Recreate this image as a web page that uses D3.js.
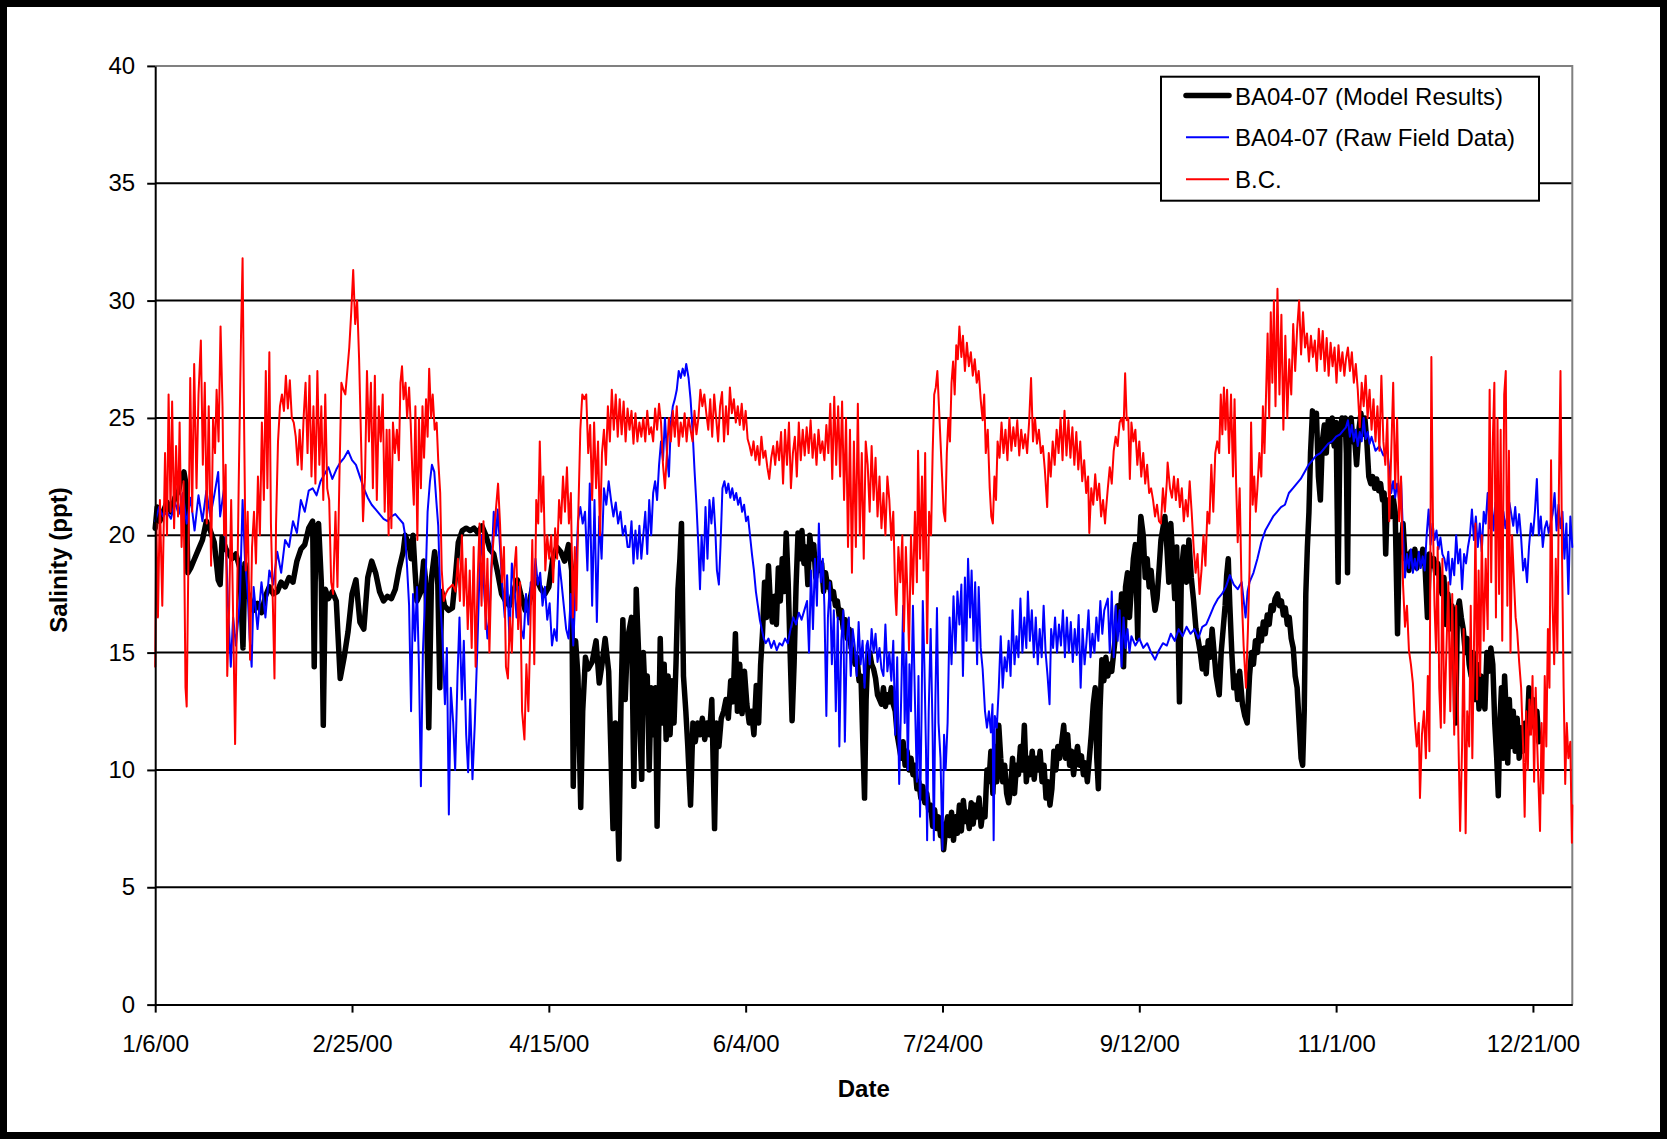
<!DOCTYPE html>
<html>
<head>
<meta charset="utf-8">
<script src="https://cdn.jsdelivr.net/npm/d3@7"></script>
<style>
  html, body { margin: 0; padding: 0; background: #fff; }
  svg { display: block; font-family: "Liberation Sans", Arial, Helvetica, sans-serif; }
</style>
</head>
<body>
<svg id="chart" width="1667" height="1139"></svg>
<script>
// Axis ticks
const dateTicks = ["1/6/00", "2/25/00", "4/15/00", "6/4/00", "7/24/00", "9/12/00", "11/1/00", "12/21/00"];
const dateRange = ["1/6/00", "12/31/00"];
const salinityTicks = [0, 5, 10, 15, 20, 25, 30, 35, 40];

const seriesNames = ["BA04-07 (Model Results)", "BA04-07 (Raw Field Data)", "B.C."];

// Each record: [days after 1/6/00, salinity in ppt]
const modelResults = [
  [0,20.3],[0.5,21.2],[1.2,20.6],[2,21.0],[3,21.4],[4,21.0],[5,21.6],[6,21.9],[6.5,22.4],[7.3,22.7],[7.8,22.2],[8.3,18.4],[9,18.6],[10,19.0],[11,19.4],[12,19.8],[13,20.6],[14,20.2],[15,19.7],[16,18.1],[16.5,17.9],[17,19.9],[18,19.4],[19.5,19.0],[20.5,19.2],[21.5,18.6],[22.3,15.2],[22.8,18.8],[23.4,17.6],[24,17.3],[25,16.8],[26,17.1],[27,16.7],[28,17.4],[29,17.8],[30,17.5],[31,17.6],[32,18.0],[33,17.8],[34,18.2],[35,18.0],[36,18.9],[37,19.4],[38,19.6],[39,20.3],[40,20.6],[40.4,14.4],[40.8,20.3],[41.5,20.5],[42.2,18.0],[42.7,11.9],[43.2,17.7],[44,17.3],[45,17.6],[46,17.2],[47,13.9],[48,14.8],[49,15.9],[50,17.5],[51,18.1],[52,16.3],[53,16.0],[54,18.2],[55,18.9],[56,18.4],[57,17.6],[58,17.2],[59,17.4],
  [60,17.3],[61,17.7],[62,18.6],[63,19.3],[63.5,20.0],[64.5,19.6],[65,19.0],[65.5,20.0],[66,18.5],[66.5,17.2],[67.5,17.6],[68.2,18.9],[68.8,17.9],[69.5,11.8],[70.2,18.2],[71,19.3],[71.8,17.9],[72.3,13.5],[72.8,17.6],[73.5,17.0],[74.5,16.8],[75.5,16.9],[76.3,18.3],[77,19.7],[78,20.2],[79,20.3],[80,20.2],[81,20.3],[82,20.1],[83,20.4],[84,20.0],[85,19.4],[86,19.2],[87,18.4],[88,17.5],[89,17.2],[90,17.0],[91,17.6],[92,18.1],[93,17.4],[94,16.8],[95,17.1],[96,17.9],[97,18.1],[98,17.7],[99,17.5],[100,17.8],[101,19.0],[102,19.5],[103,19.3],[104,18.9],[105,19.6],[105.8,18.5],[106.2,9.3],[106.8,15.5],[107.4,14.0],[108.1,8.4],[108.6,12.5],[109.3,14.8],[110,14.3],[111,14.6],[112,15.5],[112.8,13.7],[113.5,14.5],[114.3,15.6],[115.2,14.2],[116.3,7.5],[116.9,12.0],[117.8,6.2],[118.3,12.5],[118.8,16.4],[119.4,13.0],[120,15.6],
  [121,16.5],[121.6,9.3],[122.2,17.7],[122.8,15.0],[123.2,11.5],[123.6,9.6],[124,15.0],[124.5,13.0],[125,14.0],[125.5,10.0],[126,13.5],[126.6,11.5],[127.1,13.5],[127.5,7.6],[128,12.5],[128.3,15.6],[128.8,12.0],[129.3,14.5],[129.8,11.3],[130.3,14.0],[130.8,11.5],[131.3,13.8],[131.8,12.0],[132.3,14.5],[132.8,17.7],[133.3,19.0],[133.7,20.5],[134.2,14.0],[134.8,12.5],[135.3,11.0],[136,8.5],[136.6,12.0],[137.2,11.2],[137.8,12.0],[138.4,11.5],[139,12.2],[139.6,11.3],[140.2,12.0],[140.8,11.5],[141.4,13.0],[142.1,7.5],[142.6,12.0],[143.2,11.0],[143.8,12.2],[144.4,12.5],[145,13.0],[145.6,12.2],[146.2,13.8],[146.8,12.9],[147.4,15.8],[147.9,12.5],[148.5,14.5],[149.1,12.4],[149.7,14.2],[150.3,12.8],[150.9,12.0],[151.5,12.5],[152.1,11.5],[152.7,13.6],[153.3,12.0],[153.8,14.5],[154.3,15.9],[154.8,18.0],[155.3,16.5],[155.8,18.7],[156.3,17.0],[156.8,16.3],[157.3,17.4],[157.8,16.2],[158.3,18.6],[158.8,17.2],[159.3,19.0],[159.8,17.6],[160.3,20.1],[160.8,18.0],[161.3,15.0],[161.8,12.1],[162.3,14.5],[162.8,17.8],[163.3,20.1],[163.8,19.0],[164.3,20.2],[164.8,18.8],[165.3,19.5],[165.8,17.9],[166.3,20.0],[166.8,19.0],[167.3,19.6],[167.8,18.2],[168.3,19.0],[168.8,18.5],[169.3,18.8],[169.8,17.6],[170.3,18.4],[170.8,17.8],[171.3,18.0],[171.8,17.3],[172.3,17.6],[172.8,17.0],[173.3,17.2],[173.8,16.5],[174.3,16.8],[174.8,16.0],[175.3,16.4],[175.8,15.6],[176.3,16.0],[176.8,15.2],[177.3,15.0],[177.8,14.5],[178.3,14.8],[178.8,13.8],[179.3,14.0],[179.8,11.0],[180.2,8.8],[180.6,13.0],
  [181,14.8],[181.5,15.0],[182,14.5],[182.5,14.3],[183,13.9],[183.5,13.2],[184,13.0],[184.5,12.8],[185,13.5],[185.5,12.7],[186,13.2],[186.5,12.9],[187,13.5],[187.5,12.8],[188,12.5],[188.5,11.5],[189,11.0],[189.5,10.5],[190,11.2],[190.5,10.2],[191,10.8],[191.5,10.0],[192,10.5],[192.5,9.8],[193,10.2],[193.5,9.2],[194,9.5],[194.5,8.8],[195,9.3],[195.5,8.6],[196,9.0],[196.5,8.3],[197,8.5],[197.5,7.6],[198,8.3],[198.5,7.5],[199,8.0],[199.5,7.2],[200,7.7],[200.3,6.6],[200.8,7.5],[201.3,8.0],[201.8,7.2],[202.3,8.2],[202.8,7.0],[203.3,8.0],[203.8,7.3],[204.3,8.5],[204.8,7.4],[205.3,8.7],[205.8,7.8],[206.3,8.2],[206.8,7.5],[207.3,8.6],[207.8,7.7],[208.3,8.5],[208.8,8.0],[209.3,8.8],[209.8,7.6],[210.3,8.3],[210.8,8.0],[211.3,10.0],[211.8,9.5],[212.3,10.8],[212.8,9.0],[213.3,11.0],[213.8,9.5],[214.3,11.9],[214.8,10.5],[215.3,9.5],[215.8,10.2],[216.3,9.0],[216.8,8.6],[217.3,9.2],[217.8,10.5],[218.3,9.0],[218.8,10.2],[219.3,9.8],[219.8,11.0],[220.3,10.0],[220.8,11.9],[221.3,9.5],[221.8,10.5],[222.3,9.8],[222.8,10.8],[223.3,9.6],[223.8,10.5],[224.3,10.0],[224.8,10.8],[225.3,9.5],[225.8,10.2],[226.3,8.8],[226.8,9.5],[227.3,8.5],[227.8,9.2],[228.3,10.8],[228.8,10.0],[229.3,11.0],[229.8,10.5],[230.3,11.2],[230.8,11.9],[231.3,10.5],[231.8,11.5],[232.3,10.2],[232.8,10.8],[233.3,9.8],[233.8,10.5],[234.3,11.0],[234.8,10.2],[235.3,10.6],[235.8,9.8],[236.3,10.3],[236.8,9.5],[237.3,10.5],[237.8,11.5],[238.3,12.8],[238.8,13.5],[239.2,10.5],[239.6,9.2],[240,12.5],[240.5,14.7],[241,13.8],[241.5,14.8],
  [242,14.0],[242.5,14.5],[243,14.2],[243.5,15.0],[244,15.8],[244.5,17.0],[245,16.0],[245.5,17.5],[246,14.4],[246.5,17.8],[247,18.4],[247.5,16.5],[248,17.8],[248.5,19.0],[249,19.6],[249.6,15.6],[250,19.5],[250.4,20.8],[251,20.0],[251.5,18.2],[252,19.0],[252.5,17.8],[253,18.5],[253.5,17.5],[254,16.8],[254.5,17.3],[255,18.5],[255.5,19.8],[256.5,20.8],[257,19.5],[257.5,18.0],[258,20.5],[258.5,19.0],[259,17.3],[259.5,19.5],[260.2,12.9],[260.7,18.5],[261.3,19.5],[262,18.0],[262.6,19.8],[263.2,18.2],[263.8,17.2],[264.4,16.0],[265,15.5],[265.5,15.0],[266,14.3],[266.5,15.2],[267,14.1],[267.5,15.5],[268,14.8],[268.5,16.0],[269,15.0],[269.5,14.0],[270.3,13.2],[270.8,15.0],[271.3,16.0],[271.8,17.0],[272.2,18.3],[272.6,19.0],[273,17.0],[273.5,15.0],[274,13.5],[274.5,14.0],[275,13.0],[275.5,14.2],[276.2,12.8],[276.8,12.3],[277.4,12.0],[278,14.0],[278.5,15.0],[279,14.5],[279.5,15.5],[280,15.0],[280.5,16.0],[281,15.5],[281.5,16.3],[282,15.8],[282.5,16.6],[283,16.2],[283.5,17.0],[284,16.8],[284.5,17.3],[285.1,17.5],[285.6,17.0],[286.1,17.2],[286.6,16.6],[287.1,16.9],[287.6,16.2],[288.1,16.5],[288.6,15.6],[289.1,15.2],[289.6,14.0],[290.1,13.5],[290.6,12.0],[291.1,10.5],[291.5,10.2],[291.9,12.5],[292.3,17.5],[292.7,19.5],[293.1,21.0],[293.5,23.5],[294,25.3],[294.5,24.5],[295,25.2],[295.5,22.5],[296,21.5],[296.5,24.0],[297,24.7],[297.5,23.5],[298,24.9],[298.5,24.0],[299,25.0],[299.5,23.8],[300,24.8],[300.5,18.0],[301,24.5],[301.5,25.0],[302,24.3],
  [302.3,25.0],[302.6,23.5],[302.9,18.4],[303.3,24.5],[303.8,25.0],[304.3,24.0],[304.8,23.9],[305.2,23.0],[305.8,24.5],[306.3,25.2],[306.8,24.3],[307.3,25.0],[307.8,24.0],[308.3,22.5],[308.8,22.2],[309.3,22.5],[309.8,22.0],[310.3,22.4],[310.8,21.9],[311.3,22.2],[311.8,21.5],[312.2,21.8],[312.6,19.2],[313,21.5],[313.5,21.0],[314,20.8],[314.5,21.6],[315,21.0],[315.6,15.8],[316.1,20.0],[316.6,19.3],[317,20.5],[317.5,19.0],[318,19.2],[318.5,18.5],[319,19.3],[319.5,18.7],[320,19.4],[320.5,18.6],[321,19.2],[321.5,18.8],[322,19.4],[322.5,19.0],[323.2,16.5],[323.7,19.2],[324.2,18.7],[324.8,19.0],[325.3,18.4],[325.8,18.8],[326.4,18.0],[326.9,17.5],[327.4,18.2],[327.9,16.2],[328.4,17.5],[328.9,16.0],[329.4,17.0],[330,16.5],[330.4,12.0],[330.8,16.8],[331.3,17.2],[331.8,16.5],[332.3,16.0],[332.8,15.0],[333.3,15.6],[333.8,14.5],[334.3,14.0],[334.8,15.0],[335.3,13.0],[335.8,14.5],[336.3,12.6],[336.8,14.0],[337.3,13.0],[337.8,12.6],[338.3,15.0],[338.8,14.2],[339.3,15.2],[339.8,14.5],[340.3,12.0],[340.8,10.5],[341.2,8.9],[341.6,12.0],[342,13.5],[342.4,10.5],[342.8,14.0],[343.2,12.5],[343.6,10.3],[344,13.0],[344.5,11.0],[345,12.5],[345.5,10.8],[346,12.2],[346.5,10.5],[347,11.8],[347.5,10.8],[348,12.0],[348.5,11.5],[349,13.5],[349.5,12.5],[350,13.0],[350.5,11.8],[351,12.5],[351.5,11.2]
];

const rawFieldData = [
  [0,20.6],[1,21.2],[2,20.8],[3,21.0],[4,20.7],[5,21.4],[6,20.9],[7,21.8],[8,20.5],[9,21.6],[10,20.2],[11,21.7],[12,20.6],[13,21.9],[14,20.8],[15,21.7],[16,22.7],[16.5,20.8],[17.5,22.0],[18.5,17.0],[19.2,14.4],[19.8,16.5],[20.5,15.3],[21.5,17.2],[22.2,21.5],[22.8,19.0],[23.5,17.5],[24,15.6],[24.5,14.4],[25,17.8],[26,16.0],[27,18.0],[28,16.5],[29,18.5],[30,17.9],[31,19.3],[32,18.4],[33,19.8],[34,19.5],[35,20.6],[36,20.1],[37,21.5],[38,21.0],[39,21.9],[40,22.0],[41,21.7],[42,22.3],[43,22.6],[44,22.9],[45,22.4],[46,22.8],[47,23.1],[48,23.3],[49,23.6],[50,23.2],[51,23.0],[52,22.5],[53,22.0],[54,21.6],[55,21.3],[56,21.1],[57,20.9],[58,20.7],[59,20.6],[60,20.8],
  [61,20.9],[62,20.7],[63,20.5],[63.5,20.0],[64,18.6],[64.5,17.0],[65,12.5],[65.5,17.5],[66,15.5],[66.5,17.8],[67,14.4],[67.5,9.3],[68,15.0],[68.6,17.5],[69.2,21.0],[69.8,22.3],[70.3,23.0],[70.9,22.7],[71.4,21.5],[71.9,20.4],[72.5,17.0],[73,15.5],[73.6,12.8],[74.1,15.2],[74.6,8.1],[75.1,13.5],[75.7,12.0],[76.2,10.0],[76.8,14.0],[77.3,16.5],[77.9,13.0],[78.4,15.5],[79,11.5],[79.5,9.9],[80,13.0],[80.6,9.6],[81.2,12.0],[81.8,15.0],[82.4,18.5],[83,20.0],[83.6,17.5],[84.4,15.6],[84.9,16.5],[85.5,19.0],[86,21.0],[86.6,20.0],[87,21.1],[87.6,19.5],[88.2,17.8],[88.8,16.5],[89.4,18.3],[90,15.5],[90.6,18.8],[91.2,17.9],[91.8,16.5],[92.4,17.8],[93,16.0],[93.6,15.6],[94.2,17.5],[94.8,16.2],[95.4,18.0],[96,17.5],[96.6,19.0],[97.2,17.9],[97.8,18.4],[98.4,17.0],[99,17.8],[99.6,16.4],[100.2,17.1],[100.8,15.3],[101.4,16.0],[102,15.5],[102.6,18.9],[103.2,18.0],[103.8,17.0],[104.4,16.0],[105,15.6],[105.6,17.5],[106.2,15.3],[106.8,17.8],[107.4,20.6],[108,21.2],[108.6,20.5],[109.2,21.0],[109.8,18.5],[110.4,22.2],[111,17.0],[111.6,21.5],[112.2,16.3],[112.8,20.8],[113.4,19.0],[114,22.0],[114.6,21.3],[115.2,22.3],[115.8,21.5],[116.4,20.8],[117,21.4],[117.6,20.5],[118.2,21.0],[118.8,20.0],[119.4,20.4],[120,19.5],
  [120.5,19.5],[121,20.6],[121.5,18.8],[122,20.2],[122.5,19.0],[123,20.4],[123.5,19.0],[124,20.0],[124.5,21.0],[125,19.2],[125.5,21.5],[126,20.0],[126.5,21.8],[127,22.3],[127.5,21.5],[128,23.0],[128.5,24.0],[129,23.2],[129.5,25.0],[130,23.5],[130.5,22.5],[131,24.8],[131.5,25.5],[132,25.8],[132.5,26.2],[133,27.0],[133.5,26.7],[134,27.1],[134.5,26.8],[134.9,27.3],[135.5,26.7],[136,25.8],[136.5,24.5],[137,22.8],[137.5,21.3],[138,19.5],[138.4,17.7],[138.8,20.0],[139.3,18.5],[139.8,21.2],[140.3,19.0],[140.8,21.5],[141.3,20.5],[141.8,21.6],[142.3,20.2],[142.7,18.5],[143.2,17.9],[143.6,19.5],[144.1,22.0],[144.6,22.3],[145.1,21.8],[145.6,22.2],[146.1,21.6],[146.6,22.0],[147.1,21.5],[147.6,21.8],[148.1,21.3],[148.6,21.6],[149.1,21.0],[149.6,21.3],[150.1,20.6],[150.6,20.8],[151.1,20.0],[151.6,19.2],[152.1,18.5],[152.6,17.6],[153.1,17.0],[153.6,16.4],[154.1,16.0],[154.6,15.6],[155.1,15.4],[155.8,15.6],[156.5,15.2],[157.2,15.5],[157.9,15.1],[158.6,15.4],[159.3,15.3],[160,15.6],[160.7,15.4],[161.4,16.0],[162.1,16.5],[162.8,16.2],[163.5,16.7],[164.2,16.4],[164.9,16.8],[165.6,17.2],[166.1,15.0],[166.6,18.5],[167.1,16.0],[167.6,19.0],[168.1,17.0],[168.6,20.5],[169.1,18.0],[169.6,19.0],[170,17.0],[170.5,12.3],[170.9,16.5],[171.4,18.0],[171.9,14.5],[172.4,16.8],[172.9,12.5],[173.4,16.5],[173.8,11.0],[174.3,15.5],[174.8,16.8],[175.2,11.2],[175.7,15.5],[176.2,16.5],[176.7,14.0],[177.2,16.0],[177.7,15.3],[178.2,14.0],[178.7,16.3],[179.2,14.5],[179.7,15.5],[180.2,13.5],[180.7,15.3],
  [181,15.5],[181.5,14.5],[182,16.0],[182.5,15.0],[183,15.8],[183.5,14.6],[184,15.2],[184.5,14.3],[185,14.0],[185.5,16.2],[186,14.2],[186.5,15.0],[187,13.8],[187.5,15.5],[188,11.5],[188.5,14.8],[189,9.4],[189.5,13.0],[190,17.0],[190.4,12.0],[190.8,15.0],[191.2,10.0],[191.6,14.5],[192,12.5],[192.5,17.0],[193,13.0],[193.5,9.5],[193.9,14.0],[194.3,8.0],[194.7,12.5],[195,17.2],[195.4,14.5],[195.8,11.0],[196.1,7.0],[196.5,12.5],[197,16.0],[197.5,11.5],[197.8,7.0],[198.2,13.0],[198.6,16.9],[199,12.0],[199.5,10.5],[200,6.6],[200.4,11.5],[200.8,10.0],[201.3,12.0],[201.8,16.5],[202.3,14.5],[202.8,17.4],[203.3,15.0],[203.8,17.6],[204.3,16.2],[204.8,17.9],[205.2,14.0],[205.7,18.2],[206.1,15.5],[206.5,19.0],[207,16.5],[207.4,18.5],[207.9,15.5],[208.3,18.0],[208.8,14.5],[209.2,17.8],[209.7,15.2],[210.2,14.3],[210.8,12.5],[211.3,11.8],[211.8,12.5],[212.3,11.6],[212.7,12.8],[213,7.0],[213.3,12.3],[213.8,11.8],[214.3,13.5],[214.8,15.7],[215.3,13.5],[215.8,14.8],[216.3,14.2],[216.8,15.5],[217.3,14.0],[217.8,16.8],[218.3,14.5],[218.8,15.7],[219.3,14.8],[219.8,17.3],[220.3,15.0],[220.8,16.5],[221.3,15.2],[221.7,17.6],[222.2,15.5],[222.7,16.8],[223.2,14.8],[223.7,16.5],[224.2,14.5],[224.7,16.0],[225.2,14.8],[225.7,17.0],[226.2,15.0],[226.7,14.0],[227.2,12.8],[227.6,16.0],[228.1,15.2],[228.6,16.5],[229.1,15.0],[229.6,16.2],[230.1,15.3],[230.6,16.8],[231.1,14.8],[231.6,16.5],[232.1,15.0],[232.6,16.3],[233.1,14.6],[233.6,16.0],[234.1,14.9],[234.6,16.6],[235.1,13.5],[235.6,16.0],[236.1,14.5],[236.6,15.5],[237.1,16.8],[237.6,14.8],[238.1,15.8],[238.6,15.0],[239.1,16.5],[239.6,15.5],[240.1,17.2],[240.6,15.8],[241.1,16.8],
  [242,17.3],[242.5,15.0],[243,17.6],[243.5,14.8],[244,17.0],[244.5,15.5],[245,16.8],[245.5,14.4],[246,16.5],[246.5,15.2],[247,16.0],[247.5,15.0],[248,15.7],[249,15.3],[250,15.6],[251,15.2],[252,15.4],[253,15.0],[254,14.7],[255,15.1],[256,15.4],[257,15.3],[258,15.8],[259,15.5],[260,16.0],[261,15.7],[262,16.1],[263,15.8],[264,16.0],[265,15.6],[266,16.1],[267,16.2],[268,16.6],[269,17.0],[270,17.3],[271,17.5],[272,17.8],[273,18.3],[274,17.9],[275,17.7],[276,18.0],[277,16.5],[277.5,17.6],[278,18.0],[279,18.4],[280,19.0],[281,19.7],[282,20.2],[283,20.5],[284,20.8],[285,21.0],[286,21.2],[287,21.3],[288,21.8],[289,22.0],[290,22.2],[291,22.4],[292,22.7],[293,23.0],[294,23.2],[295,23.4],[296,23.5],[297,23.7],[298,23.9],[299,24.0],[300,24.2],[301,24.3],[302,24.5],
  [302.5,24.6],[303,24.9],[303.5,24.2],[304,24.7],[304.5,24.0],[305,24.5],[305.5,23.8],[306,24.4],[306.5,24.0],[307,25.0],[307.5,24.1],[308,24.4],[308.5,23.9],[309,24.2],[310,23.6],[311,23.8],[312,23.4],[313,23.6],[313.5,22.8],[314,21.8],[314.5,22.3],[315,21.6],[315.5,22.2],[316,21.5],[316.5,22.3],[317,20.0],[317.5,18.2],[318,19.2],[318.5,18.6],[319,19.4],[319.5,18.4],[320,19.0],[320.5,18.5],[321,19.3],[321.5,18.6],[322,19.1],[322.5,18.5],[323,20.0],[323.5,21.1],[324,19.6],[324.5,20.5],[325,19.8],[325.5,20.2],[326,19.4],[326.5,19.9],[327,19.2],[327.5,19.0],[328,18.5],[328.5,19.3],[329,17.9],[329.5,19.0],[330,18.3],[330.5,20.0],[331,18.8],[331.5,19.4],[332,17.7],[332.5,19.2],[333,18.8],[333.5,19.5],[334,20.0],[334.5,21.1],[335,19.8],[335.5,20.8],[336,19.5],[336.5,20.5],[337,19.3],[337.5,21.0],[338,20.5],[338.5,21.8],[339,20.3],[339.5,21.5],[340,20.2],[340.5,21.4],[341,20.1],[341.5,21.2],[342,20.5],[342.5,21.0],[343,20.3],[344,21.4],[345,20.4],[345.5,21.2],[346,20.1],[346.5,20.9],[347,19.9],[347.5,18.5],[348,19.0],[348.5,18.0],[349,19.5],[349.5,20.5],[350,20.0],[350.5,21.0],[351,22.4],[351.5,20.0],[352,20.8],[352.5,19.5],[353,20.3],[353.5,20.6],[354,20.1],[354.5,20.5],[355,20.9],[355.5,21.8],[356,20.2],[356.5,21.3],[357,20.3],[357.5,21.0],[358,19.0],[358.5,20.5],[359,17.5],[359.5,20.8],[360,19.5]
];

const boundaryCondition = [
  [0,14.4],[0.3,20.5],[0.7,16.5],[1.2,21.5],[1.8,17.0],[2.5,23.5],[3,20.0],[3.4,26.0],[3.9,21.0],[4.3,25.7],[4.8,20.3],[5.3,23.8],[5.8,20.8],[6.2,24.8],[6.7,19.5],[7.2,22.3],[7.7,13.5],[8.0,12.7],[8.4,18.5],[8.9,26.7],[9.4,21.0],[9.9,27.3],[10.5,22.0],[11.0,26.0],[11.6,28.3],[12.1,23.0],[12.6,26.5],[13.1,20.5],[13.6,25.5],[14.2,18.7],[14.7,25.0],[15.2,23.5],[15.6,26.2],[16.1,24.0],[16.6,28.9],[17.1,25.5],[17.5,20.0],[17.9,23.0],[18.3,14.0],[18.8,17.0],[19.3,21.5],[19.9,15.5],[20.3,11.1],[20.7,16.0],[21.2,22.0],[21.8,28.5],[22.2,31.8],[22.6,24.5],[23.0,18.5],[23.5,21.0],[24.1,14.7],[24.6,19.5],[25.1,21.0],[25.6,18.8],[26.1,22.5],[26.6,20.0],[27.1,24.8],[27.6,21.5],[28.1,27.0],[28.5,22.0],[29.0,27.8],[29.4,20.5],[29.9,17.0],[30.3,13.9],[30.7,20.5],[31.2,24.0],[31.7,25.5],[32.2,26.0],[32.7,25.3],[33.2,26.8],[33.7,25.4],[34.2,26.6],[34.7,25.0],[35.2,24.8],[35.7,24.2],[36.2,23.0],[36.7,24.5],[37.2,22.8],[37.7,25.0],[38.2,26.5],[38.7,23.5],[39.2,26.8],[39.7,22.5],[40.2,25.5],[40.7,22.2],[41.2,27.0],[41.7,23.0],[42.2,25.5],[42.7,21.5],[43.2,26.0],[43.7,22.0],[44.2,21.5],[44.7,18.0],[45.2,17.5],[45.8,21.0],[46.3,17.8],[46.8,22.5],[47.3,26.5],[47.8,26.2],[48.3,26.0],[48.8,27.0],[49.3,28.0],[49.8,29.5],[50.3,31.3],[50.8,29.0],[51.3,30.0],[51.8,27.5],[52.3,24.0],[52.8,20.6],[53.3,22.5],[53.8,27.0],[54.3,24.0],[54.8,26.5],[55.3,22.0],[55.8,26.8],[56.3,21.5],[56.8,25.5],[57.3,24.0],[57.8,26.0],[58.3,21.0],[58.8,24.5],[59.3,20.0],
  [59.5,24.5],[60,20.3],[60.4,24.8],[60.9,23.5],[61.4,24.5],[61.9,23.2],[62.3,26.5],[62.7,27.2],[63.1,25.8],[63.6,26.5],[64,25.0],[64.5,26.3],[64.9,24.8],[65.3,22.8],[65.7,21.3],[66.1,25.5],[66.6,19.8],[67.0,25.0],[67.5,22.0],[67.9,25.5],[68.3,23.3],[68.8,25.8],[69.2,24.2],[69.6,27.1],[70.1,25.0],[70.5,26.0],[71,24.5],[71.5,24.8],[71.9,23.2],[72.4,21.8],[72.8,18.5],[73.3,17.2],[73.8,17.5],[74.4,17.7],[75,17.8],[75.6,17.9],[76.3,17.6],[76.9,19.0],[77.4,17.2],[77.9,20.0],[78.4,17.0],[78.9,19.0],[79.4,16.0],[79.9,18.5],[80.4,15.2],[80.9,19.5],[81.4,14.4],[81.9,18.0],[82.4,20.5],[82.9,17.0],[83.4,20.6],[83.9,16.0],[84.4,19.0],[84.9,15.0],[85.4,18.5],[86,20.0],[86.6,21.2],[87.1,22.2],[87.6,20.5],[88.1,18.0],[88.6,19.5],[89.1,14.4],[89.6,13.9],[90.1,16.5],[90.6,15.0],[91.2,18.5],[91.7,19.5],[92.2,16.0],[92.7,18.0],[93.2,12.5],[93.8,11.3],[94.3,14.5],[94.8,12.5],[95.3,16.0],[95.8,19.8],[96.3,14.5],[96.8,21.5],[97.3,20.5],[97.7,24.0],[98.1,21.0],[98.6,22.5],[99.1,18.5],[99.6,20.0],[100.1,19.0],[100.6,20.0],[101.1,18.0],[101.6,20.3],[102.1,19.0],[102.6,21.5],[103.1,20.5],[103.6,22.5],[104.1,21.0],[104.6,22.9],[105.1,20.5],[105.6,21.8],[106.1,16.5],[106.6,19.5],[107,16.8],[107.5,21.0],[108,24.5],[108.5,26.0],[109,25.8],[109.5,26.0],[110,23.5],[110.5,24.7],[111,21.5],[111.5,24.8],[112,22.0],[112.5,24.0],[113,20.0],[113.5,23.5],[114,24.5],[114.5,23.0],[115,25.5],[115.5,24.0],[116,26.2],[116.5,24.5],[117,26.0],[117.5,24.2],[118,25.8],[118.5,24.3],[119,25.7],[119.5,24.0],[120,25.4],
  [120.5,24.5],[121,25.3],[121.5,23.9],[122,25.2],[122.5,24.0],[123,24.8],[123.5,24.2],[124,25.0],[124.5,24.0],[125,25.3],[125.5,24.3],[126,24.6],[126.5,24.0],[127,25.4],[127.5,24.5],[128,25.6],[128.5,24.8],[129,23.0],[129.5,22.0],[130,23.5],[130.5,25.0],[131,24.0],[131.5,25.3],[132,24.2],[132.5,25.5],[133,23.8],[133.5,24.8],[134,24.2],[134.5,25.2],[135,24.0],[135.5,25.0],[136,24.5],[136.5,24.0],[137,25.3],[137.5,24.3],[138,25.0],[138.5,26.2],[139,25.5],[139.5,26.0],[140,25.2],[140.5,24.5],[141,25.8],[141.5,24.2],[142,26.0],[142.5,25.0],[143,24.0],[143.5,25.5],[144,26.1],[144.5,24.0],[145,25.5],[145.5,24.3],[146,26.3],[146.5,25.2],[147,25.8],[147.5,24.8],[148,25.5],[148.5,24.7],[149,25.6],[149.5,24.5],[150,25.3],[150.5,24.1],[151,23.8],[151.5,23.4],[152,24.0],[152.5,23.2],[153,23.8],[153.5,23.0],[154,24.2],[154.5,23.3],[155,23.6],[155.5,22.9],[156,22.4],[156.5,23.3],[157,23.8],[157.5,23.0],[158,24.0],[158.5,23.2],[159,24.4],[159.5,22.2],[160,24.5],[160.5,23.0],[161,24.8],[161.5,22.0],[162,23.5],[162.5,24.2],[163,22.5],[163.5,24.8],[164,23.2],[164.5,24.5],[165,23.4],[165.5,24.6],[166,23.5],[166.5,24.9],[167,23.3],[167.5,24.3],[168,23.0],[168.5,24.5],[169,23.5],[169.5,24.0],[170,23.2],[170.5,24.7],[171,23.5],[171.5,25.6],[172,22.4],[172.5,25.9],[173,23.0],[173.5,25.5],[174,22.5],[174.5,25.7],[175,21.5],[175.5,25.0],[176,19.5],[176.5,24.5],[177,18.4],[177.5,24.0],[178,19.5],[178.5,25.6],[179,20.0],[179.5,23.5],[180,19.0],[180.5,24.0],
  [181,23.0],[181.5,21.0],[182,23.8],[182.5,21.5],[183,23.3],[183.5,20.8],[184,22.5],[184.5,20.3],[185,21.8],[185.5,20.0],[186,22.5],[186.5,21.5],[187,19.8],[187.5,21.0],[188,17.5],[188.3,16.6],[188.8,19.5],[189.3,18.0],[189.8,20.0],[190.2,15.9],[190.7,19.5],[191.2,17.0],[191.5,15.1],[192,20.0],[192.5,17.5],[193,21.0],[193.5,18.0],[193.8,23.6],[194.3,19.0],[194.8,22.5],[195.2,18.5],[195.6,23.5],[196.1,15.4],[196.6,21.0],[197.1,20.0],[197.5,23.5],[197.9,26.0],[198.3,26.3],[198.7,27.0],[199.1,25.5],[199.5,24.0],[199.9,22.5],[200.3,21.0],[200.7,20.6],[201.1,23.5],[201.5,25.0],[201.9,24.0],[202.3,26.5],[202.7,27.4],[203.1,26.0],[203.5,28.1],[203.9,27.5],[204.3,28.9],[204.8,27.6],[205.2,28.5],[205.7,27.0],[206.2,28.2],[206.7,27.2],[207.2,27.8],[207.7,26.8],[208.2,27.5],[208.7,26.5],[209.2,27.0],[209.7,25.8],[210.2,24.9],[210.6,26.0],[211,23.5],[211.5,24.5],[212,22.0],[212.4,20.8],[212.8,20.5],[213.2,22.5],[213.6,21.5],[214,24.0],[214.5,23.3],[215,24.8],[215.5,23.5],[216,24.5],[216.5,23.2],[217,25.0],[217.5,23.6],[218,24.6],[218.5,23.8],[219,24.9],[219.5,23.4],[220,24.5],[220.5,23.7],[221,24.3],[221.5,23.5],[222,24.8],[222.5,26.7],[223,24.0],[223.5,25.0],[224,23.9],[224.5,24.5],[225,23.5],[225.5,23.8],[226,22.8],[226.6,21.2],[227,23.5],[227.5,22.5],[228,24.0],[228.5,23.0],[229,24.5],[229.5,23.5],[230,25.0],[230.5,23.2],[231,25.3],[231.5,23.4],[232,24.9],[232.5,23.3],[233,24.6],[233.5,23.0],[234,24.4],[234.5,22.8],[235,24.0],[235.5,22.3],[236,23.2],[236.5,21.8],[237,22.5],[237.3,20.1],[237.8,22.0],[238.3,21.3],[238.8,22.6],[239.3,21.5],[239.8,22.2],[240.3,20.8],[240.8,21.5],[241.3,20.5],
  [241.5,21.0],[242,22.0],[242.5,22.9],[243,22.2],[243.5,23.6],[244,24.2],[244.5,23.8],[245,24.8],[245.5,25.0],[246,24.5],[246.4,26.9],[246.8,24.9],[247.2,25.0],[247.6,22.4],[248,24.8],[248.5,24.0],[249,24.5],[249.5,23.0],[250,24.0],[250.5,22.5],[251,23.5],[251.5,22.2],[252,23.0],[252.5,21.8],[253,22.0],[253.5,21.5],[254,20.8],[254.5,21.3],[255,20.6],[255.5,20.5],[256,22.0],[256.5,21.0],[257,22.3],[257.2,23.1],[257.8,22.0],[258.3,21.6],[258.8,22.5],[259.3,21.5],[259.8,22.4],[260.3,21.2],[260.8,22.0],[261.3,20.6],[261.8,21.5],[262.3,20.8],[262.8,22.3],[263.3,21.0],[263.8,19.5],[264.3,18.4],[264.8,19.2],[265.3,17.5],[265.8,18.5],[266.3,20.0],[266.8,18.7],[267.3,21.0],[267.8,20.5],[268.3,23.0],[268.8,21.0],[269.3,23.5],[269.8,24.0],[270.3,23.5],[270.7,26.0],[271.1,24.3],[271.5,26.3],[271.9,24.5],[272.3,26.2],[272.8,23.5],[273.3,26.0],[273.8,22.5],[274.2,25.8],[274.6,22.2],[275,19.7],[275.5,22.0],[276,17.5],[276.5,15.3],[277.1,13.5],[277.6,16.0],[278,18.5],[278.4,24.8],[278.8,21.3],[279.2,22.5],[279.6,21.0],[280,22.0],[280.5,23.5],[281,22.5],[281.4,25.5],[281.8,23.5],[282.2,26.0],[282.6,28.6],[283,25.0],[283.4,29.5],[283.8,26.5],[284.2,30.0],[284.6,25.5],[285.1,30.5],[285.6,26.0],[286.1,29.4],[286.6,24.5],[287.1,28.5],[287.6,25.0],[288.1,27.5],[288.6,26.0],[289.1,29.0],[289.6,27.0],[290.1,28.8],[290.6,30.0],[291.1,27.7],[291.6,29.5],[292.1,28.0],[292.6,28.6],[293.1,27.4],[293.6,28.5],[294.1,27.6],[294.6,28.3],[295.1,27.0],[295.6,28.8],[296.1,27.5],[296.6,28.7],[297.1,27.0],[297.6,28.4],[298.1,26.8],[298.6,28.2],[299.1,27.2],[299.6,28.0],[300.1,26.5],[300.6,28.1],[301.1,27.0],[301.6,27.8],[302.1,26.8],
  [302.5,27.5],[303,28.0],[303.5,27.0],[304,27.8],[304.5,26.5],[305,27.3],[305.5,26.2],[306,24.6],[306.5,26.5],[307,25.5],[307.5,26.8],[308,25.0],[308.5,26.2],[309,24.5],[309.5,25.8],[310,24.0],[310.5,25.5],[311,23.6],[311.5,26.8],[312,24.0],[312.5,23.0],[313,25.0],[313.5,20.6],[314,23.5],[314.5,26.5],[315,22.0],[315.5,25.0],[316,20.6],[316.5,22.5],[317,17.9],[317.5,16.1],[318,17.0],[318.5,15.1],[319,14.5],[319.5,13.7],[320,12.1],[320.5,11.0],[321,12.0],[321.3,8.8],[321.8,11.5],[322.3,12.5],[322.8,10.5],[323.3,14.0],[323.7,10.8],[324.2,27.6],[324.6,20.5],[325,17.0],[325.4,15.0],[325.8,19.5],[326.2,13.5],[326.6,11.8],[327,19.0],[327.5,12.0],[328,15.0],[328.5,18.0],[329,12.5],[329.5,17.5],[330,11.5],[330.5,17.0],[331,12.0],[331.5,7.4],[332,11.0],[332.4,16.0],[332.9,7.3],[333.3,12.5],[333.8,11.0],[334.2,17.0],[334.6,10.5],[335,15.0],[335.4,20.5],[335.8,13.0],[336.2,18.5],[336.6,14.0],[337,20.0],[337.5,15.5],[338,19.0],[338.5,16.0],[339,26.2],[339.4,18.0],[339.8,24.0],[340.2,26.5],[340.6,16.5],[341,25.0],[341.4,17.5],[341.8,24.5],[342.2,15.5],[342.7,26.0],[343.1,27.0],[343.5,17.0],[343.9,23.6],[344.3,15.0],[344.7,20.0],[345.2,18.0],[345.6,16.5],[346,15.9],[346.5,14.6],[347,13.5],[347.5,11.0],[347.9,8.0],[348.3,12.5],[348.7,10.0],[349.1,13.0],[349.5,11.5],[349.9,14.0],[350.3,9.5],[350.7,13.5],[351.1,11.0],[351.8,7.4],[352.2,12.0],[352.6,9.0],[353,14.0],[353.4,11.0],[353.8,16.0],[354.2,13.5],[354.6,23.2],[355,17.0],[355.4,14.5],[355.8,19.0],[356.2,15.0],[356.6,22.0],[357,27.0],[357.4,19.0],[357.8,13.5],[358.2,9.4],[358.6,12.0],[359,10.5],[359.5,11.2],[359.9,6.9],[360,8.5]
];

// ---------- layout ----------
const W = 1667, H = 1139;
const plot = { left: 155.2, right: 1572.3, top: 65.9, bottom: 1004.6 };
const fontSize = 24;

const svg = d3.select("#chart");
const parseDate = d3.utcParse("%m/%d/%y");
const formatDate = d3.utcFormat("%-m/%-d/%y");
const startDate = parseDate(dateRange[0]);
const endDate = parseDate(dateRange[1]);
const dayMs = 864e5;
const toDate = d => new Date(startDate.getTime() + d * dayMs);

const x = d3.scaleUtc().domain([startDate, endDate]).range([plot.left, plot.right]);
const y = d3.scaleLinear().domain([0, 40]).range([plot.bottom, plot.top]);

// white page with heavy frame
svg.append("rect").attr("x", 0).attr("y", 0).attr("width", W).attr("height", H).attr("fill", "#fff");

// horizontal gridlines
svg.append("g").selectAll("line")
  .data(salinityTicks.filter(v => v > 0 && v < 40))
  .join("line")
  .attr("x1", plot.left).attr("x2", plot.right)
  .attr("y1", d => y(d)).attr("y2", d => y(d))
  .attr("stroke", "#000").attr("stroke-width", 2);

// plot-area border (top and right) in grey
svg.append("path")
  .attr("d", `M${plot.left},${y(40)}H${plot.right}V${y(0)}`)
  .attr("fill", "none").attr("stroke", "#808080").attr("stroke-width", 2);

// series
const line = d3.line()
  .x(d => x(toDate(d[0])))
  .y(d => y(d[1]));

const series = [
  { name: seriesNames[0], data: modelResults, color: "#000000", width: 5.5 },
  { name: seriesNames[1], data: rawFieldData, color: "#0000FF", width: 2 },
  { name: seriesNames[2], data: boundaryCondition, color: "#FF0000", width: 2 }
];

svg.append("g").selectAll("path")
  .data(series)
  .join("path")
  .attr("d", s => line(d3.sort(s.data, d => d[0])))
  .attr("fill", "none")
  .attr("stroke", s => s.color)
  .attr("stroke-width", s => s.width)
  .attr("stroke-linejoin", "round")
  .attr("stroke-linecap", "round");

// axes
const yAxis = d3.axisLeft(y).tickValues(salinityTicks).tickSize(8).tickSizeOuter(0).tickPadding(12);
const yg = svg.append("g").attr("transform", `translate(${plot.left},0)`).call(yAxis);

const xAxis = d3.axisBottom(x).tickValues(dateTicks.map(parseDate)).tickFormat(formatDate)
  .tickSize(8).tickSizeOuter(0).tickPadding(22);
const xg = svg.append("g").attr("transform", `translate(0,${plot.bottom})`).call(xAxis);

[yg, xg].forEach(g => {
  g.select(".domain").attr("stroke", "#000").attr("stroke-width", 2);
  g.selectAll(".tick line").attr("stroke", "#000").attr("stroke-width", 2);
  g.selectAll(".tick text")
    .attr("fill", "#000")
    .style("font-family", '"Liberation Sans", Arial, sans-serif')
    .style("font-size", fontSize + "px");
});

// axis titles
svg.append("text")
  .attr("x", (plot.left + plot.right) / 2).attr("y", 1097)
  .attr("text-anchor", "middle")
  .style("font-size", fontSize + "px").style("font-weight", "bold")
  .text("Date");

svg.append("text")
  .attr("transform", "translate(67,560) rotate(-90)")
  .attr("text-anchor", "middle")
  .style("font-size", fontSize + "px").style("font-weight", "bold")
  .text("Salinity (ppt)");

// legend
const legend = svg.append("g");
legend.append("rect")
  .attr("x", 1161).attr("y", 76.7).attr("width", 378).attr("height", 124)
  .attr("fill", "#fff").attr("stroke", "#000").attr("stroke-width", 2);
const rowY = [95.5, 137.3, 179.3];
const items = legend.selectAll("g.item").data(series).join("g").attr("class", "item")
  .attr("transform", (d, i) => `translate(0,${rowY[i]})`);
items.append("line")
  .attr("x1", 1186).attr("x2", 1229).attr("y1", 0).attr("y2", 0)
  .attr("stroke", d => d.color).attr("stroke-width", d => d.width)
  .attr("stroke-linecap", d => d.width > 3 ? "round" : "butt");
items.append("text")
  .attr("x", 1235).attr("y", 9)
  .style("font-size", fontSize + "px")
  .text(d => d.name);

// outer frame
svg.append("rect")
  .attr("x", 3.5).attr("y", 3.5).attr("width", W - 7).attr("height", H - 7)
  .attr("fill", "none").attr("stroke", "#000").attr("stroke-width", 7);
</script>
</body>
</html>
